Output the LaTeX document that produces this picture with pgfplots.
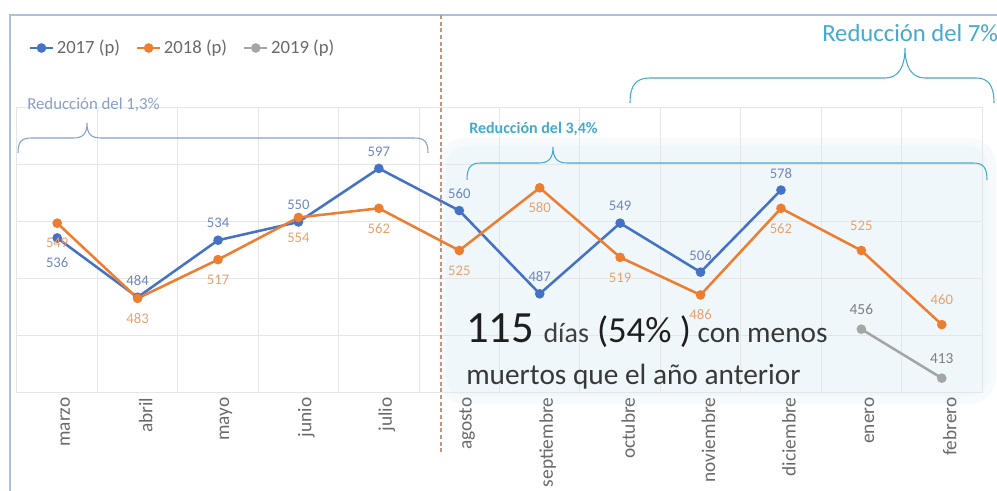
\documentclass[border=0pt]{standalone}
\usepackage{pgfplots}
\usepackage{pgfplotstable}
\pgfplotsset{compat=1.18}
\usepackage{fontspec}
\setmainfont{Carlito}
\definecolor{c17}{HTML}{4472C4}
\definecolor{c18}{HTML}{ED7D31}
\definecolor{c19}{HTML}{A5A5A5}
\definecolor{lab17}{HTML}{6F86C2}
\definecolor{lab18}{HTML}{E9A36E}
\definecolor{lab19}{HTML}{7F7F7F}
\definecolor{txtgray}{HTML}{6A6A6A}
\definecolor{gridc}{HTML}{E6E6E6}
\definecolor{framec}{HTML}{A9C2DB}
\definecolor{braceA}{HTML}{8A9FCE}
\definecolor{tealc}{HTML}{45AACF}
\definecolor{boxc}{HTML}{EFF7FB}
\definecolor{dashc}{HTML}{C4957E}
\definecolor{dark}{HTML}{1E1E1E}

% x = month index (0 = marzo ... 11 = febrero), dy = label shift in pt
\pgfplotstableread{
x y dy
0 536 -18.75
1 484 12.75
2 534 12.75
3 550 12.75
4 597 12.75
5 560 12.75
6 487 12.75
7 549 12.75
8 506 12.75
9 578 12.75
}\tblA
\pgfplotstableread{
x y dy
0 549 -15
1 483 -15
2 517 -15
3 554 -15
4 562 -15
5 525 -15
6 580 -15
7 519 -15
8 486 -15
9 562 -15
10 525 18.75
11 460 18.75
}\tblB
\pgfplotstableread{
x y dy
10 456 15
11 413 15
}\tblC

\begin{document}
\begin{tikzpicture}
\fill[white] (0,0) rectangle (747.75pt,-368.25pt);
\begin{scope}[x=0.75pt,y=-0.75pt]
  \draw[framec, line width=1.5pt] (10,520) -- (10,15) -- (1010,15);
  \fill[boxc, opacity=0.5, rounded corners=20pt] (438,138) rectangle (996,404);
  \fill[boxc, rounded corners=15pt] (446,146) rectangle (988,396);
\end{scope}

\begin{axis}[
  at={(12.75pt,-294.75pt)}, anchor=south west,
  scale only axis, width=723.75pt, height=213.75pt,
  xmin=-0.5, xmax=11.5, ymin=400, ymax=650,
  xtick={0,...,11},
  xticklabels={marzo,abril,mayo,junio,julio,agosto,septiembre,octubre,noviembre,diciembre,enero,febrero},
  minor xtick={0.5,1.5,2.5,3.5,4.5,5.5,6.5,7.5,8.5,9.5,10.5},
  ytick={400,450,500,550,600,650},
  yticklabels={},
  ymajorgrids, xminorgrids,
  grid style={gridc, line width=0.75pt},
  minor grid style={gridc, line width=0.75pt},
  axis line style={gridc, line width=0.75pt},
  major tick length=0pt, minor tick length=0pt,
  xticklabel style={rotate=90, anchor=east, text=txtgray,
    font=\fontsize{14.5}{16}\selectfont, yshift=-6pt},
  /pgf/number format/assume math mode=true,
  clip=false,
  legend columns=3,
  legend style={at={(0.012,1.2105)}, anchor=west, draw=none, fill=none,
    font=\fontsize{14}{16}\selectfont, text=txtgray, inner sep=0pt,
    /tikz/every even column/.append style={column sep=10pt}},
  legend cell align=left,
]
\addplot[c17, line width=1.9pt, mark=*, mark size=2.6pt,
  nodes near coords, point meta=explicit,
  visualization depends on={\thisrow{dy} \as \dy},
  every node near coord/.append style={anchor=center, yshift=\dy pt,
    text=lab17, font=\fontsize{11}{12}\selectfont}]
  table[x=x, y=y, meta=y] {\tblA};
\addlegendentry{2017 (p)}
\addplot[c18, line width=1.9pt, mark=*, mark size=2.6pt,
  nodes near coords, point meta=explicit,
  visualization depends on={\thisrow{dy} \as \dy},
  every node near coord/.append style={anchor=center, yshift=\dy pt,
    text=lab18, font=\fontsize{11}{12}\selectfont}]
  table[x=x, y=y, meta=y] {\tblB};
\addlegendentry{2018 (p)}
\addplot[c19, line width=1.9pt, mark=*, mark size=2.6pt,
  nodes near coords, point meta=explicit,
  visualization depends on={\thisrow{dy} \as \dy},
  every node near coord/.append style={anchor=center, yshift=\dy pt,
    text=lab19, font=\fontsize{11.5}{12}\selectfont}]
  table[x=x, y=y, meta=y] {\tblC};
\addlegendentry{2019 (p)}
\end{axis}

\begin{scope}[x=0.75pt,y=-0.75pt]
  \draw[dashc, densely dashed, line width=0.8pt] (441,15) -- (441,452);
  % brace 1
  \draw[braceA, line width=0.8pt] (18,153) .. controls (18,141) and (22,138) .. (32,138)
     -- (73,138) .. controls (83,138) and (87,134) .. (87,123)
     .. controls (87,134) and (91,138) .. (101,138) -- (414,138)
     .. controls (424,138) and (428,141) .. (428,153);
  \node[braceA, anchor=west, inner sep=0pt, font=\fontsize{12.6}{14}\selectfont] at (27,105) {Reducción del 1,3\%};
  % brace 2
  \draw[tealc, line width=0.8pt] (467,180) .. controls (467,167) and (471,163) .. (481,163)
     -- (539,163) .. controls (549,163) and (553,158) .. (553,147)
     .. controls (553,158) and (557,163) .. (567,163) -- (973,163)
     .. controls (983,163) and (987,167) .. (987,180);
  \node[tealc, anchor=west, inner sep=0pt, font=\bfseries\fontsize{12}{14}\selectfont] at (469,129) {Reducción del 3,4\%};
  % brace 3
  \draw[tealc, line width=0.8pt] (630,103) .. controls (630,85) and (636,78) .. (650,78)
     -- (885,78) .. controls (899,78) and (905,66) .. (905,48)
     .. controls (905,66) and (911,78) .. (925,78) -- (976,78)
     .. controls (988,78) and (994,85) .. (994,103);
  \node[tealc, anchor=west, inner sep=0pt, font=\fontsize{18.5}{20}\selectfont] at (822,33) {Reducción del 7\%};
  % text in box
  \node[anchor=base west, inner sep=0pt, text=dark] at (466,343)
    {{\fontsize{33.5}{34}\selectfont 115\hspace{7pt}}{\fontsize{21}{24}\selectfont\color{black!75}días\hspace{6pt}}{\fontsize{27.5}{30}\selectfont(54\% )\hspace{5pt}}{\fontsize{22}{24}\selectfont\color{black!78}con menos}};
  \node[anchor=base west, inner sep=0pt, text=black!78, font=\fontsize{22}{24}\selectfont] at (466,385)
    {muertos que el año anterior};
\end{scope}
\pgfresetboundingbox
\useasboundingbox (0,0) rectangle (747.75pt,-368.25pt);
\end{tikzpicture}
\end{document}
